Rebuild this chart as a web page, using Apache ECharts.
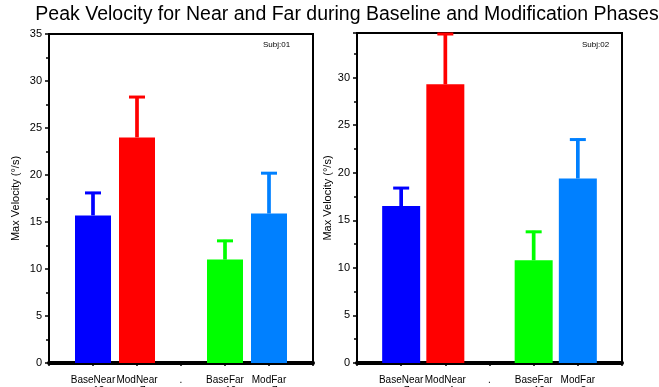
<!DOCTYPE html>
<html>
<head>
<meta charset="utf-8">
<script src="https://cdn.jsdelivr.net/npm/echarts@6/dist/echarts.min.js"></script>
<style>
  html, body { margin: 0; padding: 0; background: #fff; }
  #chart { width: 659px; height: 387px; }
</style>
</head>
<body>
<div id="chart"></div>
<script>
// categories (empty ends pad the axis so bars sit at 1..5 of 0..6)
const categories = ["", "BaseNear", "ModNear", ".", "BaseFar", "ModFar", ""];
const colors = ["#0000ff", "#ff0000", "#00ff00", "#0080ff"];
const barIdx = [1, 2, 4, 5];

// subject 01
const counts01 = ["n=12", "n=7", "", "n=10", "n=7"];
const means01 = [15.7, 24.0, 11.0, 15.9];
const upper01 = [18.2, 28.4, 13.1, 20.3];

// subject 02
const counts02 = ["n=7", "n=4", "", "n=12", "n=8"];
const means02 = [16.5, 29.3, 10.8, 19.4];
const upper02 = [18.5, 34.7, 13.9, 23.6];

const yTicks01 = { min: 0, max: 35, interval: 5 };
const yTicks02 = { min: 0, max: 34.7, interval: 5 };

function xLabels(counts) {
  return categories.map((c, i) => {
    if (i === 0 || i === categories.length - 1) return "";
    const n = counts[i - 1];
    return n ? c + "\n" + n : c;
  });
}

function barData(means) {
  const d = categories.map(() => null);
  means.forEach((v, k) => {
    d[barIdx[k]] = { value: v, itemStyle: { color: colors[k] } };
  });
  return d;
}

function errData(means, upper) {
  return means.map((v, k) => [barIdx[k], v, upper[k], k]);
}

const fontFam = "Liberation Sans, Arial, sans-serif";

function makeGrid(left, right, top) {
  return { left: left, right: right, top: top, bottom: 24, show: true,
    containLabel: false, outerBoundsMode: "none",
    borderColor: "#000", borderWidth: 2, backgroundColor: "transparent" };
}

function makeX(gi, counts) {
  return {
    type: "category", gridIndex: gi, boundaryGap: false,
    data: xLabels(counts),
    axisLine: { lineStyle: { color: "#000", width: 4 } },
    axisTick: { show: true, length: 3, lineStyle: { color: "#000", width: 1.5 } },
    axisLabel: { color: "#000", fontSize: 10, fontFamily: fontFam, lineHeight: 11, margin: 12, interval: 0 },
    splitLine: { show: false }
  };
}

function makeY(gi, ticks, gap) {
  return {
    type: "value", gridIndex: gi, min: ticks.min, max: ticks.max, interval: ticks.interval,
    name: "Max Velocity (°/s)", nameLocation: "middle", nameGap: gap,
    nameTextStyle: { color: "#000", fontSize: 11, fontFamily: fontFam },
    axisLine: { show: true, lineStyle: { color: "#000", width: 2 } },
    axisTick: { show: true, length: 4, lineStyle: { color: "#000", width: 1.5 } },
    minorTick: { show: true, splitNumber: 2, length: 3, lineStyle: { color: "#000", width: 1.5 } },
    axisLabel: { color: "#000", fontSize: 11, fontFamily: fontFam, margin: 7,
      formatter: v => (v % 5 === 0 ? String(v) : "") },
    splitLine: { show: false }
  };
}

function errSeries(gi, means, upper) {
  return {
    type: "custom", xAxisIndex: gi, yAxisIndex: gi, z: 3,
    data: errData(means, upper),
    renderItem: function (params, api) {
      const base = api.coord([api.value(0), api.value(1)]);
      const top = api.coord([api.value(0), api.value(2)]);
      const c = colors[api.value(3)];
      return {
        type: "group",
        children: [
          { type: "line", shape: { x1: base[0], y1: base[1], x2: top[0], y2: top[1] },
            style: { stroke: c, lineWidth: 3.7 } },
          { type: "line", shape: { x1: top[0] - 8, y1: top[1] + 1, x2: top[0] + 8, y2: top[1] + 1 },
            style: { stroke: c, lineWidth: 3 } }
        ]
      };
    }
  };
}

const chart = echarts.init(document.getElementById("chart"));
chart.setOption({
  animation: false,
  title: [
    { text: "Peak Velocity for Near and Far during Baseline and Modification Phases",
      left: 342, top: 0, textAlign: "center",
      textStyle: { color: "#000", fontSize: 19.5, fontWeight: "normal", fontFamily: fontFam } },
    { text: "Subj:01", left: 258, top: 36,
      textStyle: { color: "#000", fontSize: 8, fontWeight: "normal", fontFamily: fontFam } },
    { text: "Subj:02", left: 577, top: 36,
      textStyle: { color: "#000", fontSize: 8, fontWeight: "normal", fontFamily: fontFam } }
  ],
  grid: [makeGrid(49, 346, 34), makeGrid(357, 37, 33)],
  xAxis: [makeX(0, counts01), makeX(1, counts02)],
  yAxis: [makeY(0, yTicks01, 28), makeY(1, yTicks02, 21)],
  series: [
    { type: "bar", xAxisIndex: 0, yAxisIndex: 0, barWidth: 36, data: barData(means01) },
    errSeries(0, means01, upper01),
    { type: "bar", xAxisIndex: 1, yAxisIndex: 1, barWidth: 38, data: barData(means02) },
    errSeries(1, means02, upper02)
  ]
});
</script>
</body>
</html>
